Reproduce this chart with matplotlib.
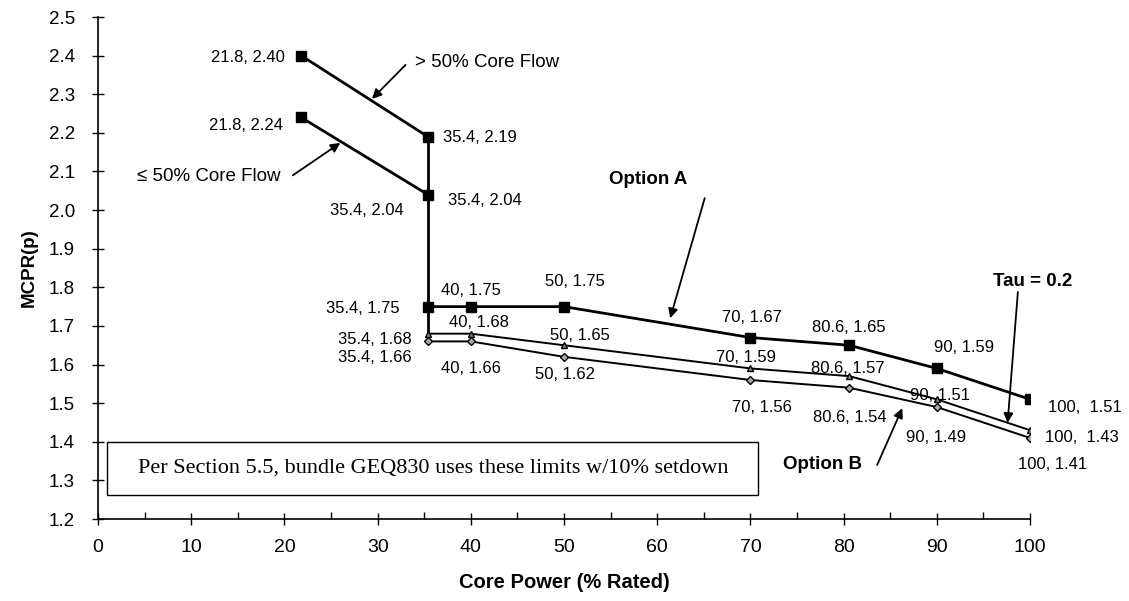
import matplotlib
matplotlib.use("Agg")
import matplotlib.pyplot as plt
from matplotlib.patches import Rectangle
from matplotlib.ticker import MultipleLocator, FormatStrFormatter

# ── Data ─────────────────────────────────────────────
gt50_x = [21.8, 35.4]
gt50_y = [2.40, 2.19]
le50_x = [21.8, 35.4]
le50_y = [2.24, 2.04]

optA_x = [35.4, 40, 50, 70, 80.6, 90, 100]
optA_y = [1.75, 1.75, 1.75, 1.67, 1.65, 1.59, 1.51]

optB_x = [35.4, 40, 50, 70, 80.6, 90, 100]
optB_y = [1.68, 1.68, 1.65, 1.59, 1.57, 1.51, 1.43]

tau_x = [35.4, 40, 50, 70, 80.6, 90, 100]
tau_y = [1.66, 1.66, 1.62, 1.56, 1.54, 1.49, 1.41]

# point labels: (text, x, y, ha)
point_labels = [
    ("21.8, 2.40", 20.1, 2.396, "right"),
    ("21.8, 2.24", 19.9, 2.22, "right"),
    ("35.4, 2.19", 37.0, 2.187, "left"),
    ("35.4, 2.04", 37.6, 2.026, "left"),
    ("35.4, 2.04", 28.8, 2.0, "center"),
    ("35.4, 1.75", 28.4, 1.745, "center"),
    ("35.4, 1.68", 29.7, 1.664, "center"),
    ("35.4, 1.66", 29.7, 1.617, "center"),
    ("40, 1.75", 40.0, 1.793, "center"),
    ("40, 1.68", 40.9, 1.71, "center"),
    ("40, 1.66", 40.0, 1.591, "center"),
    ("50, 1.75", 51.2, 1.814, "center"),
    ("50, 1.65", 51.7, 1.676, "center"),
    ("50, 1.62", 50.1, 1.573, "center"),
    ("70, 1.67", 70.2, 1.723, "center"),
    ("70, 1.59", 69.5, 1.619, "center"),
    ("70, 1.56", 71.2, 1.488, "center"),
    ("80.6, 1.65", 80.6, 1.695, "center"),
    ("80.6, 1.57", 80.4, 1.591, "center"),
    ("80.6, 1.54", 80.7, 1.464, "center"),
    ("90, 1.59", 92.9, 1.643, "center"),
    ("90, 1.51", 90.3, 1.521, "center"),
    ("90, 1.49", 89.9, 1.412, "center"),
    ("100,  1.51", 101.9, 1.49, "left"),
    ("100,  1.43", 101.6, 1.41, "left"),
    ("100, 1.41", 102.4, 1.34, "center"),
]

plt.rcParams["font.family"] = ["Liberation Sans", "DejaVu Sans"]

fig = plt.figure(figsize=(11.29, 6.01), dpi=100)
ax = fig.add_axes([0.0868, 0.1364, 0.8255, 0.8353])

# main curves
ax.plot(gt50_x, gt50_y, color="black", lw=2.0, marker="s", ms=7, zorder=4)
ax.plot(le50_x, le50_y, color="black", lw=2.0, marker="s", ms=7, zorder=4)
ax.plot([gt50_x[-1], gt50_x[-1]], [gt50_y[-1], tau_y[0]], color="black", lw=2.0, zorder=3)
ax.plot(optA_x, optA_y, color="black", lw=2.0, marker="s", ms=7, zorder=4)
ax.plot(optB_x, optB_y, color="black", lw=1.4, marker="^", ms=5,
        markerfacecolor="#888888", markeredgecolor="black", zorder=4)
ax.plot(tau_x, tau_y, color="black", lw=1.4, marker="D", ms=4.5,
        markerfacecolor="#aaaaaa", markeredgecolor="black", zorder=4)

for txt, x, y, ha in point_labels:
    ax.text(x, y, txt, ha=ha, va="center", fontsize=12, clip_on=False)

# annotations with arrows
arrow = dict(arrowstyle="-|>", color="black", lw=1.3, mutation_scale=14,
             shrinkA=0, shrinkB=0)
ax.text(34.0, 2.381, "> 50% Core Flow", fontsize=13.5, ha="left", va="center")
ax.annotate("", xy=(29.4, 2.288), xytext=(33.0, 2.376), arrowprops=arrow)
ax.text(4.2, 2.086, "\u2264 50% Core Flow", fontsize=13.5, ha="left", va="center")
ax.annotate("", xy=(26.0, 2.174), xytext=(20.9, 2.09), arrowprops=arrow)

ax.text(59.0, 2.078, "Option A", fontsize=13.5, fontweight="bold", ha="center", va="center")
ax.annotate("", xy=(61.4, 1.72), xytext=(65.1, 2.031), arrowprops=arrow)
ax.text(77.7, 1.34, "Option B", fontsize=13.5, fontweight="bold", ha="center", va="center")
ax.annotate("", xy=(86.3, 1.487), xytext=(83.6, 1.34), arrowprops=arrow)
ax.text(100.3, 1.814, "Tau = 0.2", fontsize=13.5, fontweight="bold", ha="center",
        va="center", clip_on=False)
ax.annotate("", xy=(97.6, 1.449), xytext=(98.7, 1.788), arrowprops=arrow)

# note box
ax.add_patch(Rectangle((1.0, 1.262), 69.8, 0.138, facecolor="white",
                       edgecolor="black", lw=1.0, zorder=5))
ax.text(36.0, 1.332, "Per Section 5.5, bundle GEQ830 uses these limits w/10% setdown",
        ha="center", va="center", fontsize=16, family="Liberation Serif", zorder=6)

ax.set_xlim(0, 100)
ax.set_ylim(1.2, 2.5)
ax.xaxis.set_major_locator(MultipleLocator(10))
ax.xaxis.set_minor_locator(MultipleLocator(5))
ax.yaxis.set_major_locator(MultipleLocator(0.1))
ax.yaxis.set_major_formatter(FormatStrFormatter("%.1f"))
ax.tick_params(axis="both", which="major", direction="inout", length=9, width=1.0, labelsize=13.5)
ax.tick_params(axis="x", which="minor", direction="in", length=5, width=1.0)
ax.tick_params(axis="x", which="major", pad=10, labelsize=14)
ax.tick_params(axis="y", which="major", pad=12)

for side in ("top", "right"):
    ax.spines[side].set_visible(False)
for side in ("left", "bottom"):
    ax.spines[side].set_linewidth(1.2)

ax.set_xlabel("Core Power (% Rated)", fontsize=14.5, fontweight="bold", labelpad=12)
ax.set_ylabel("MCPR(p)", fontsize=13.5, fontweight="bold", labelpad=8)

fig.savefig("out.png", dpi=100)
